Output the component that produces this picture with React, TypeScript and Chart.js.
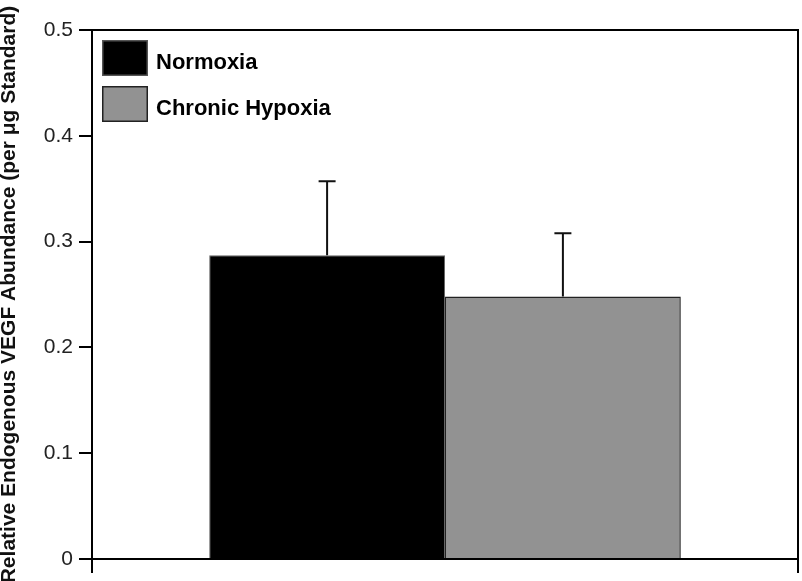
import React, { useEffect, useRef } from "react";
import { Chart, registerables } from "chart.js";

Chart.register(...registerables);

const categories = [""];
const seriesLabels = ["Normoxia", "Chronic Hypoxia"];
const normoxiaValues = [0.287];
const normoxiaErrors = [0.07];
const hypoxiaValues = [0.248];
const hypoxiaErrors = [0.06];
const yTicks = [0, 0.1, 0.2, 0.3, 0.4, 0.5];
const yTitle = "Relative Endogenous VEGF Abundance (per \u03bcg Standard)";

const FONT = "'Liberation Sans', Arial, Helvetica, sans-serif";

const errorBarPlugin = {
  id: "errorBars",
  afterDatasetsDraw(chart: any) {
    const ctx = chart.ctx;
    const yScale = chart.scales.y;
    chart.data.datasets.forEach((ds: any, i: number) => {
      const meta = chart.getDatasetMeta(i);
      const errs: number[] = ds.errors || [];
      meta.data.forEach((bar: any, j: number) => {
        const v = ds.data[j];
        const e = errs[j];
        if (e == null) return;
        const x = bar.x;
        const y0 = yScale.getPixelForValue(v);
        const y1 = yScale.getPixelForValue(v + e);
        ctx.save();
        ctx.strokeStyle = "#111";
        ctx.lineWidth = 2;
        ctx.beginPath();
        ctx.moveTo(x, y0);
        ctx.lineTo(x, y1);
        ctx.moveTo(x - 8.5, y1);
        ctx.lineTo(x + 8.5, y1);
        ctx.stroke();
        ctx.restore();
      });
    });
  },
};

const framePlugin = {
  id: "frame",
  afterDraw(chart: any) {
    const { ctx, chartArea } = chart;
    ctx.save();
    ctx.strokeStyle = "#000";
    ctx.lineWidth = 2;
    ctx.beginPath();
    ctx.moveTo(chartArea.left, chartArea.top);
    ctx.lineTo(chartArea.right, chartArea.top);
    ctx.lineTo(chartArea.right, chartArea.bottom);
    ctx.stroke();
    ctx.restore();
  },
};

const insideLegendPlugin = {
  id: "insideLegend",
  afterDraw(chart: any) {
    const { ctx, chartArea } = chart;
    const x0 = chartArea.left + 10;
    let y = chartArea.top + 10;
    const boxW = 46;
    const boxH = 36;
    chart.data.datasets.forEach((ds: any) => {
      ctx.save();
      ctx.fillStyle = ds.backgroundColor;
      ctx.fillRect(x0, y, boxW, boxH);
      ctx.strokeStyle = ds.legendBorder || "#222";
      ctx.lineWidth = 1.5;
      ctx.strokeRect(x0 + 0.75, y + 0.75, boxW - 1.5, boxH - 1.5);
      ctx.fillStyle = "#000";
      ctx.font = `bold 22px ${FONT}`;
      ctx.textBaseline = "alphabetic";
      ctx.textAlign = "left";
      ctx.fillText(ds.label, x0 + boxW + 8, y + 29);
      ctx.restore();
      y += boxH + 10;
    });
  },
};

export default function App() {
  const canvasRef = useRef<HTMLCanvasElement | null>(null);

  useEffect(() => {
    document.body.style.margin = "0";
    const canvas = canvasRef.current;
    if (!canvas) return;
    const chart = new Chart(canvas, {
      type: "bar",
      data: {
        labels: categories,
        datasets: [
          {
            label: seriesLabels[0],
            data: normoxiaValues,
            errors: normoxiaErrors,
            backgroundColor: "#000000",
            borderColor: "#666666",
            legendBorder: "#555555",
            borderWidth: 1,
            categoryPercentage: 0.668,
            barPercentage: 1,
          } as any,
          {
            label: seriesLabels[1],
            data: hypoxiaValues,
            errors: hypoxiaErrors,
            backgroundColor: "#929292",
            borderColor: "#222222",
            legendBorder: "#222222",
            borderWidth: 1.5,
            categoryPercentage: 0.668,
            barPercentage: 1,
          } as any,
        ],
      },
      options: {
        animation: false,
        responsive: false,
        maintainAspectRatio: false,
        layout: { padding: { top: 30, right: 4, left: 0, bottom: 0 } },
        plugins: {
          legend: { display: false },
          tooltip: { enabled: false },
        },
        scales: {
          x: {
            type: "category",
            offset: true,
            grid: {
              offset: true,
              drawOnChartArea: false,
              drawTicks: true,
              tickLength: 14,
              color: "#000",
              lineWidth: 2,
            },
            border: { display: true, color: "#000", width: 2 },
            ticks: { display: false },
            afterFit: (s: any) => {
              s.height = 22;
            },
          },
          y: {
            min: 0,
            max: 0.5,
            afterBuildTicks: (s: any) => {
              s.ticks = yTicks.map((v) => ({ value: v }));
            },
            ticks: {
              callback: (v: any) => (Number(v) === 0 ? "0" : Number(v).toFixed(1)),
              font: { family: FONT, size: 21 },
              color: "#222",
              padding: 6,
            },
            grid: {
              drawOnChartArea: false,
              drawTicks: true,
              tickLength: 13,
              color: "#000",
              lineWidth: 2,
            },
            border: { display: true, color: "#000", width: 2 },
            title: {
              display: true,
              text: yTitle,
              font: { family: FONT, size: 21, weight: "bold", lineHeight: 0.9 },
              color: "#111",
              padding: { top: 0, bottom: 0 },
            },
            afterFit: (s: any) => {
              s.width = 92;
            },
          },
        },
      } as any,
      plugins: [errorBarPlugin, framePlugin, insideLegendPlugin],
    });
    return () => chart.destroy();
  }, []);

  return (
    <div style={{ width: 802, height: 581 }}>
      <canvas ref={canvasRef} width={802} height={581} style={{ display: "block" }} />
    </div>
  );
}
